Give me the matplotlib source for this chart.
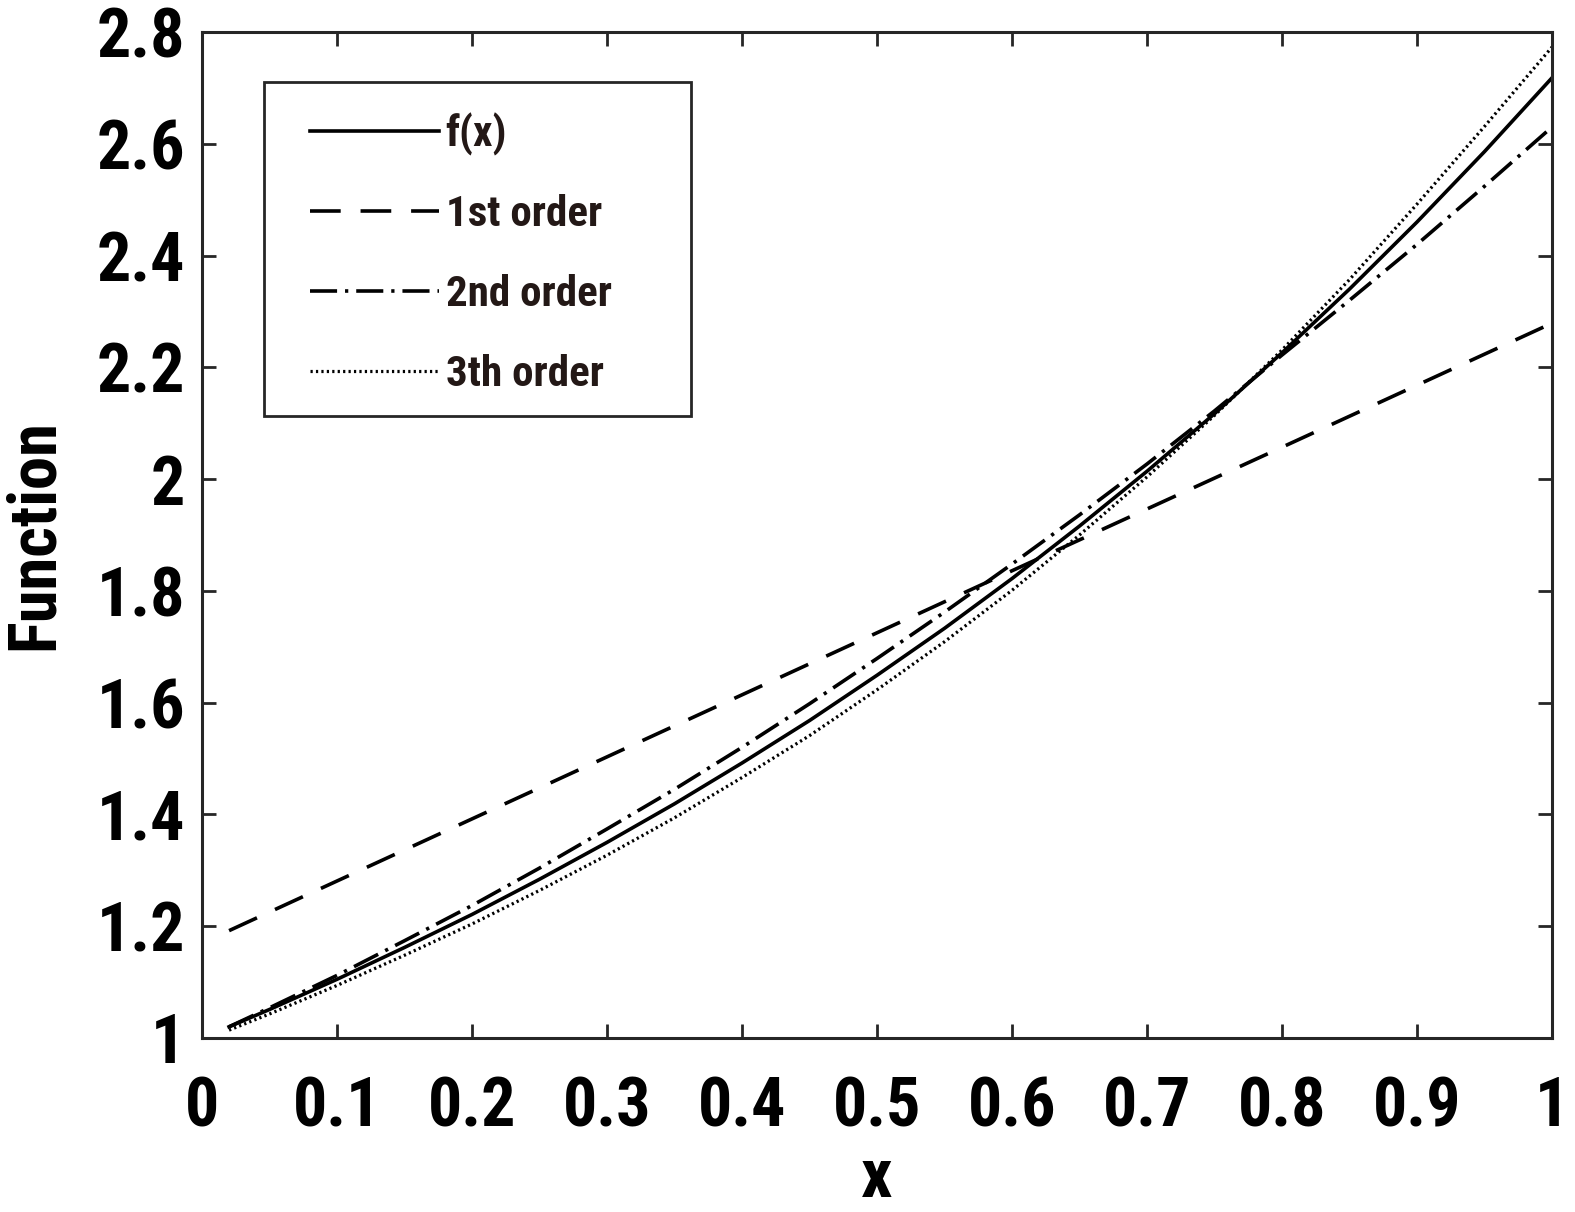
import matplotlib
matplotlib.use("Agg")
import matplotlib.pyplot as plt
from matplotlib import font_manager
from matplotlib.patches import Rectangle

# values
x_vals = [0.02, 0.05, 0.10, 0.15, 0.20, 0.25, 0.30, 0.35, 0.40, 0.45, 0.50,
          0.55, 0.60, 0.65, 0.70, 0.75, 0.80, 0.85, 0.90, 0.95, 1.00]
f_vals = [1.020, 1.051, 1.105, 1.162, 1.221, 1.284, 1.350, 1.419, 1.492, 1.568, 1.649,
          1.733, 1.822, 1.916, 2.014, 2.117, 2.226, 2.340, 2.460, 2.586, 2.718]
second_vals = [1.020, 1.054, 1.112, 1.174, 1.237, 1.304, 1.374, 1.445, 1.520, 1.598, 1.679,
               1.762, 1.848, 1.936, 2.027, 2.122, 2.222, 2.320, 2.420, 2.524, 2.630]
third_vals = [1.014, 1.043, 1.094, 1.148, 1.204, 1.264, 1.327, 1.394, 1.466, 1.541, 1.623,
              1.709, 1.801, 1.900, 2.004, 2.114, 2.231, 2.357, 2.492, 2.631, 2.773]
x_first = [0.02, 0.20, 0.40, 0.60, 0.80, 1.00]
first_vals = [1.192, 1.392, 1.614, 1.836, 2.057, 2.279]

x_ticks = [0, 0.1, 0.2, 0.3, 0.4, 0.5, 0.6, 0.7, 0.8, 0.9, 1]
x_labels = ["0", "0.1", "0.2", "0.3", "0.4", "0.5", "0.6", "0.7", "0.8", "0.9", "1"]
y_ticks = [1, 1.2, 1.4, 1.6, 1.8, 2, 2.2, 2.4, 2.6, 2.8]
y_labels = ["1", "1.2", "1.4", "1.6", "1.8", "2", "2.2", "2.4", "2.6", "2.8"]


def find_narrow_bold():
    # look for a condensed / narrow bold face among installed fonts
    files = [f.fname for f in font_manager.fontManager.ttflist]
    prefs = ["robotocondensed-bold", "libsansnarrow-bold", "liberationsansnarrow-bold",
             "notosans-condensedbold", "notosans-condensedextrabold", "notosans-extracondensedbold",
             "dejavusanscondensed-bold", "opensans-condensedbold", "opensans_condensed-bold",
             "notosans-semicondensedbold"]
    low = {fn: fn.lower().replace(" ", "").replace("_", "-") for fn in files}
    for p in prefs:
        for fn, l in low.items():
            if p in l.split("/")[-1]:
                return fn
    for fn, l in low.items():
        name = l.split("/")[-1]
        if ("condensed" in name or "narrow" in name) and "bold" in name and "italic" not in name:
            return fn
    return None


path = find_narrow_bold()
if path:
    def fp(size):
        return font_manager.FontProperties(fname=path, size=size)
else:
    def fp(size):
        return font_manager.FontProperties(family=["Liberation Sans", "DejaVu Sans"],
                                           weight="bold", size=size)

fig = plt.figure(figsize=(15.75, 12.12), dpi=100)
ax = fig.add_axes([0.1283, 0.1436, 0.8571, 0.8300])

ax.plot(x_vals, f_vals, color='black', lw=2.6, label='f(x)')
ax.plot(x_first, first_vals, color='black', lw=2.6, dashes=(8.5, 5.5), label='1st order')
ax.plot(x_vals, second_vals, color='black', lw=2.6, dashes=(7.5, 2.2, 0.9, 2.2), label='2nd order')
ax.plot(x_vals, third_vals, color='black', lw=2.3, dashes=(0.7, 1.0), label='3th order')

ax.set_xlim(0, 1)
ax.set_ylim(1, 2.8)
ax.set_xticks(x_ticks)
ax.set_xticklabels(x_labels, fontproperties=fp(49))
ax.set_yticks(y_ticks)
ax.set_yticklabels(y_labels, fontproperties=fp(49))
ax.tick_params(direction='in', length=10, width=2, top=True, right=True,
               colors='#262626', labelcolor='black')
ax.tick_params(axis='x', pad=27)
ax.tick_params(axis='y', pad=12)
for s in ax.spines.values():
    s.set_linewidth(2.2)
    s.set_color('#262626')

ax.set_xlabel("x", fontproperties=fp(50), labelpad=4)
ax.set_ylabel("Function", fontproperties=fp(48), labelpad=22)

# legend entries without frame, box drawn separately so the padding can be uneven
leg = ax.legend(loc='upper left', bbox_to_anchor=(0.080, 0.920), prop=fp(31),
                frameon=False, handlelength=3.0, handletextpad=0.15,
                labelspacing=0.90, borderpad=0, borderaxespad=0)
for t in leg.get_texts():
    t.set_color('#231816')
ax.add_patch(Rectangle((0.0459, 0.6183), 0.3163, 0.3320, transform=ax.transAxes,
                       fill=False, edgecolor='#262626', lw=2, zorder=5))

fig.savefig("out.png", dpi=100)
